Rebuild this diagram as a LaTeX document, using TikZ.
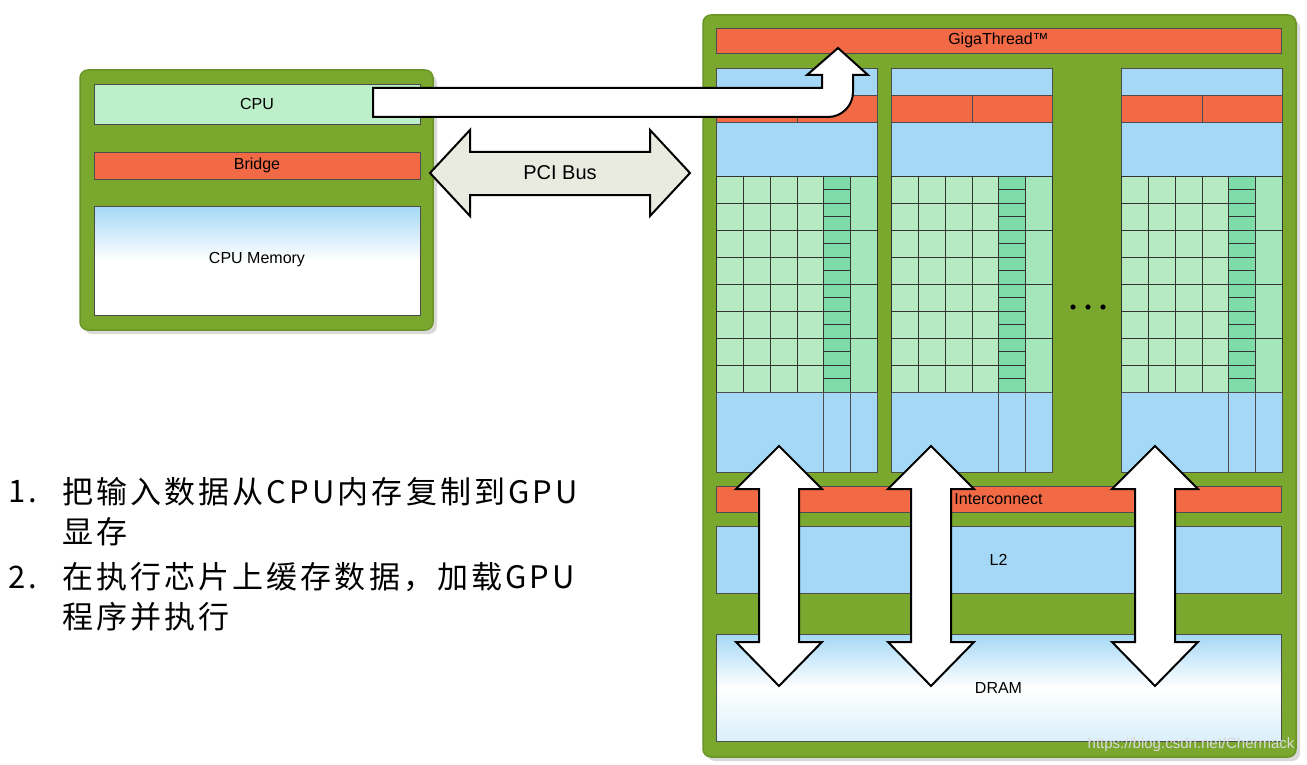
\documentclass[tikz,border=0pt]{standalone}
\usepackage{fontspec}
\setmainfont{Liberation Sans}
\newfontfamily\cjk[LetterSpace=10]{Noto Sans CJK SC}
\begin{document}
\begin{tikzpicture}[x=1pt,y=-1pt,
  board/.style={fill=boardg,draw=boardd,line width=1.5pt,rounded corners=8pt},
  orange/.style={fill=orng,draw=black!70,line width=0.6pt},
  blue/.style={fill=lblue,draw=black!70,line width=0.6pt},
  cell/.style={draw=black!80,line width=0.7pt},
  bigarrow/.style={fill=white,draw=black,line width=2pt,line join=miter},
  lbl/.style={font=\fontsize{16}{18}\selectfont},
  cjktxt/.style={font=\cjk\fontsize{31}{34}\selectfont,anchor=west,inner sep=0}]
\definecolor{boardg}{HTML}{7AA82E}
\definecolor{boardd}{HTML}{6A9426}
\definecolor{orng}{HTML}{F26A45}
\definecolor{lblue}{HTML}{A4D8F6}
\definecolor{gcell}{HTML}{B6EBC2}
\definecolor{gdark}{HTML}{7FDBA8}
\definecolor{cpug}{HTML}{BDEFCB}
\definecolor{pcif}{HTML}{E9EAE0}
\useasboundingbox (0,0) rectangle (1307,765);
\fill[white] (0,0) rectangle (1307,765);
% CPU board
\fill[black!15,rounded corners=8pt] (84,75) rectangle (437,334);
\draw[board] (80,70) rectangle (433,330);
\node[draw=black!70,fill=cpug,minimum width=326pt,minimum height=40pt,lbl] (cpu) at (257,104) {CPU};
\node[orange,minimum width=326pt,minimum height=27pt,lbl] (bridge) at (257,165.5) {Bridge};
\shade[top color=lblue,bottom color=white,middle color=white] (94,206) rectangle (420,315);
\draw[black!70] (94,206) rectangle (420,315);
\node[lbl] (cpumem) at (257,260) {CPU Memory};
% GPU board
\fill[black!15,rounded corners=8pt] (707,20) rectangle (1300,761);
\draw[board] (703,15) rectangle (1296,757);
\node[orange,minimum width=565pt,minimum height=25pt,lbl] (giga) at (998.5,40.5) {GigaThread™};
% SMs
\foreach \x in {716,891,1121}{
  \begin{scope}[xshift=\x]
  \draw[blue] (0,68) rectangle (161,95);
  \draw[orange] (0,95) rectangle (81,122);
  \draw[orange] (81,95) rectangle (161,122);
  \draw[blue] (0,122) rectangle (161,176);
  \fill[gcell] (0,176) rectangle (161,392);
  \fill[gdark] (107,176) rectangle (134,392);
  \fill[gcell!70!gdark] (134,176) rectangle (161,392);
  \foreach \c in {0,27,54,81,107,134,161} \draw[cell] (\c,176) -- (\c,392);
  \foreach \r in {0,...,8} \draw[cell] (0,176+27*\r) -- (107,176+27*\r);
  \foreach \r in {0,...,16} \draw[cell] (107,176+13.5*\r) -- (134,176+13.5*\r);
  \foreach \r in {0,2,4,6,8} \draw[cell] (134,176+27*\r) -- (161,176+27*\r);
  \draw[blue] (0,392) rectangle (161,472);
  \draw[black!70] (107,392) -- (107,472) (134,392) -- (134,472);
  \end{scope}
}
\foreach \dx in {1073,1088,1103} \fill (\dx,307) circle[radius=2.6];
\node[orange,minimum width=565pt,minimum height=26pt,lbl] (inter) at (998.5,499) {Interconnect};
\node[blue,minimum width=565pt,minimum height=67pt,lbl] (l2) at (998.5,559.5) {L2};
\shade[top color=lblue,bottom color=lblue!40,middle color=white] (716,634) rectangle (1281,741);
\draw[black!70] (716,634) rectangle (1281,741);
\node[lbl] (dram) at (998.5,688) {DRAM};
% vertical double arrows
\foreach \cx/\n in {779/a,931/b,1155/c}{
  \draw[bigarrow] (\cx,446) -- (\cx+43,489) -- (\cx+20,489) -- (\cx+20,642) -- (\cx+43,642)
    -- (\cx,686) -- (\cx-43,642) -- (\cx-20,642) -- (\cx-20,489) -- (\cx-43,489) -- cycle;
}
% PCI bus arrow
\draw[bigarrow,fill=pcif] (430,173) -- (470,130) -- (470,152) -- (650,152) -- (650,130) -- (690,173)
  -- (650,216) -- (650,195) -- (470,195) -- (470,216) -- cycle;
\node[font=\fontsize{20}{22}\selectfont] (pci) at (560,173) {PCI Bus};
% CPU -> GigaThread arrow
\draw[bigarrow] (373,88) -- (822,88) -- (822,75) -- (807,75) -- (838,48) -- (868,75) -- (853,75)
  -- (853,92) arc[start angle=0,end angle=90,radius=25] -- (373,117) -- cycle;
% text
\node[cjktxt] (n1) at (8,492) {1.};
\node[cjktxt] (t1) at (62,492) {把输入数据从CPU内存复制到GPU};
\node[cjktxt] (t1b) at (62,532) {显存};
\node[cjktxt] (n2) at (8,577) {2.};
\node[cjktxt] (t2) at (62,577) {在执行芯片上缓存数据，加载GPU};
\node[cjktxt] (t2b) at (62,617) {程序并执行};
\node[font=\fontsize{15}{17}\selectfont,text=white!85!black,anchor=east] (wm) at (1298,745) {https://blog.csdn.net/Chermack};
\end{tikzpicture}
\end{document}
